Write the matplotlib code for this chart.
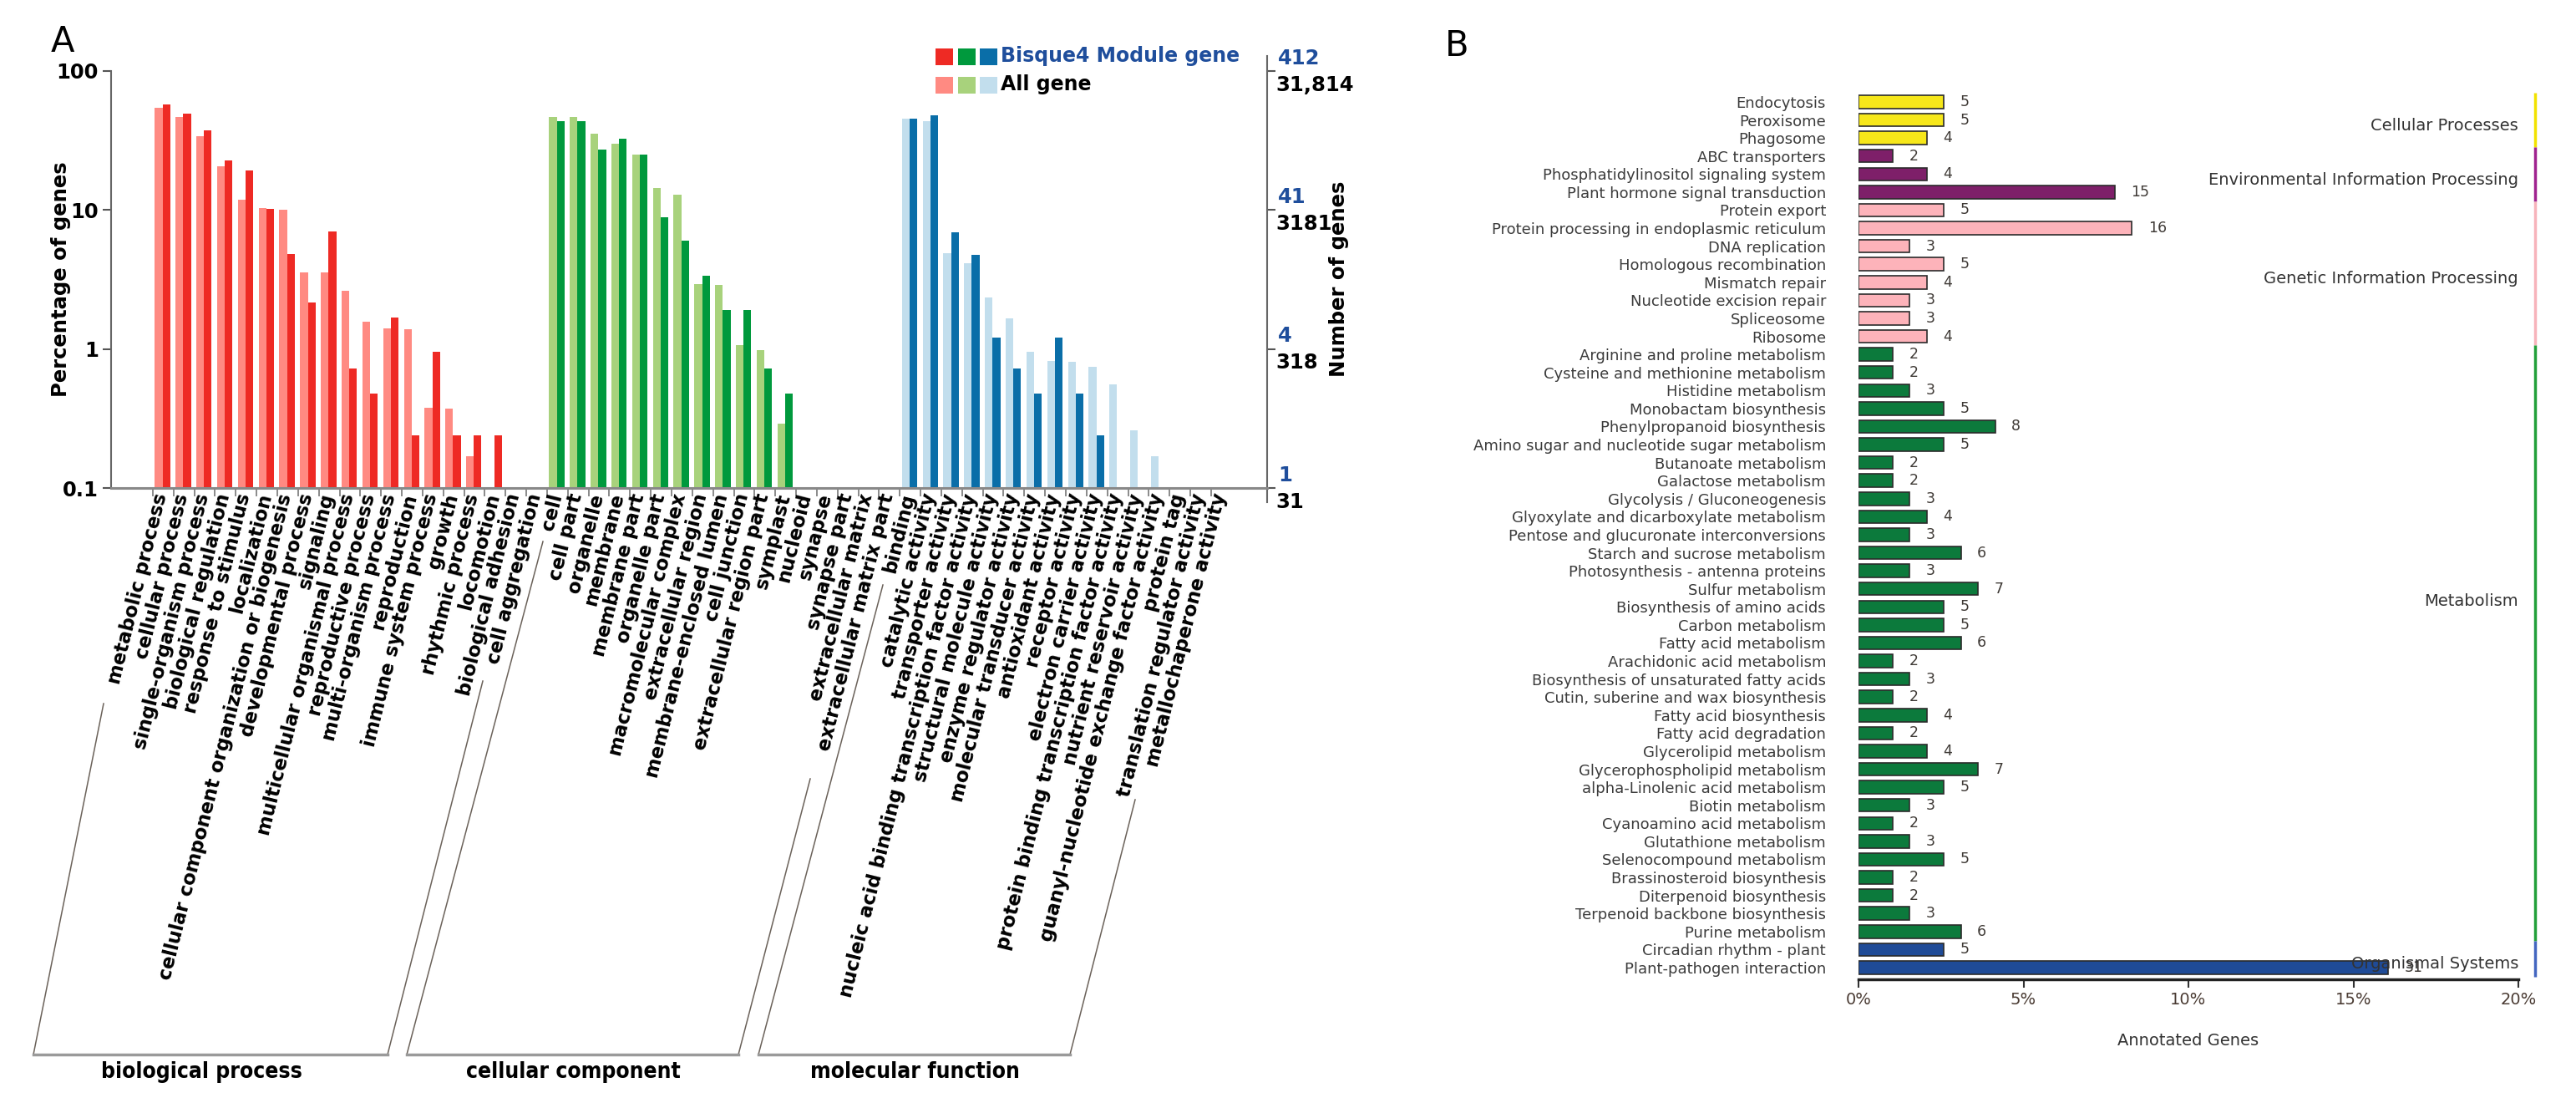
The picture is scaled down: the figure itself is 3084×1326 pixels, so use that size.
import numpy as np
import matplotlib
matplotlib.use('Agg')
import matplotlib.pyplot as plt
from matplotlib.lines import Line2D
from matplotlib.patches import Rectangle
from matplotlib.ticker import NullLocator

plt.rcParams['font.family'] = ['DejaVu Sans']

nan = np.nan

# ── Panel A data: GO level-2 terms, percentage of genes ──────────────────────

bp_terms = ['metabolic process', 'cellular process', 'single-organism process',
            'biological regulation', 'response to stimulus', 'localization',
            'cellular component organization or biogenesis', 'developmental process',
            'signaling', 'multicellular organismal process', 'reproductive process',
            'multi-organism process', 'reproduction', 'immune system process',
            'growth', 'rhythmic process', 'locomotion', 'biological adhesion',
            'cell aggregation']
bp_all    = [54.2, 46.5, 33.9, 20.7, 11.9, 10.4, 10.1, 3.57, 3.54, 2.63, 1.57,
             1.40, 1.39, 0.38, 0.37, 0.17, nan, nan, nan]
bp_module = [57.2, 49.1, 37.4, 22.7, 19.2, 10.2, 4.8, 2.16, 6.97, 0.72, 0.48,
             1.68, 0.24, 0.95, 0.24, 0.24, 0.24, nan, nan]

cc_terms = ['cell', 'cell part', 'organelle', 'membrane', 'membrane part',
            'organelle part', 'macromolecular complex', 'extracellular region',
            'membrane-enclosed lumen', 'cell junction', 'extracellular region part',
            'symplast', 'nucleoid', 'synapse', 'synapse part',
            'extracellular matrix', 'extracellular matrix part']
cc_all    = [47.0, 47.0, 35.4, 29.9, 25.1, 14.3, 12.9, 2.94, 2.89, 1.07, 0.98,
             0.29, nan, nan, nan, nan, nan]
cc_module = [43.3, 43.3, 27.4, 32.6, 25.1, 8.9, 5.98, 3.35, 1.92, 1.92, 0.72,
             0.48, nan, nan, nan, nan, nan]

mf_terms = ['binding', 'catalytic activity', 'transporter activity',
            'nucleic acid binding transcription factor activity',
            'structural molecule activity', 'enzyme regulator activity',
            'molecular transducer activity', 'antioxidant activity',
            'receptor activity', 'electron carrier activity',
            'protein binding transcription factor activity',
            'nutrient reservoir activity',
            'guanyl-nucleotide exchange factor activity', 'protein tag',
            'translation regulator activity', 'metallochaperone activity']
mf_all    = [45.3, 43.6, 4.9, 4.12, 2.35, 1.67, 0.96, 0.82, 0.81, 0.74, 0.56,
             0.26, 0.17, nan, nan, nan]
mf_module = [45.3, 47.8, 6.9, 4.77, 1.2, 0.72, 0.48, 1.2, 0.48, 0.24, nan,
             nan, nan, nan, nan, nan]

go_groups = ['biological process', 'cellular component', 'molecular function']

# right axis: gene counts at 100 / 10 / 1 / 0.1 %
pct_ticks    = [100, 10, 1, 0.1]
pct_labels   = ['100', '10', '1', '0.1']
module_ticks = ['412', '41', '4', '1']
all_ticks    = ['31,814', '3181', '318', '31']

# ── Panel B data: KEGG pathways ──────────────────────────────────────────────

kegg_terms = [
    'Endocytosis', 'Peroxisome', 'Phagosome',
    'ABC transporters', 'Phosphatidylinositol signaling system',
    'Plant hormone signal transduction',
    'Protein export', 'Protein processing in endoplasmic reticulum',
    'DNA replication', 'Homologous recombination', 'Mismatch repair',
    'Nucleotide excision repair', 'Spliceosome', 'Ribosome',
    'Arginine and proline metabolism', 'Cysteine and methionine metabolism',
    'Histidine metabolism', 'Monobactam biosynthesis',
    'Phenylpropanoid biosynthesis', 'Amino sugar and nucleotide sugar metabolism',
    'Butanoate metabolism', 'Galactose metabolism',
    'Glycolysis / Gluconeogenesis', 'Glyoxylate and dicarboxylate metabolism',
    'Pentose and glucuronate interconversions', 'Starch and sucrose metabolism',
    'Photosynthesis - antenna proteins', 'Sulfur metabolism',
    'Biosynthesis of amino acids', 'Carbon metabolism', 'Fatty acid metabolism',
    'Arachidonic acid metabolism', 'Biosynthesis of unsaturated fatty acids',
    'Cutin, suberine and wax biosynthesis', 'Fatty acid biosynthesis',
    'Fatty acid degradation', 'Glycerolipid metabolism',
    'Glycerophospholipid metabolism', 'alpha-Linolenic acid metabolism',
    'Biotin metabolism', 'Cyanoamino acid metabolism', 'Glutathione metabolism',
    'Selenocompound metabolism', 'Brassinosteroid biosynthesis',
    'Diterpenoid biosynthesis', 'Terpenoid backbone biosynthesis',
    'Purine metabolism', 'Circadian rhythm - plant', 'Plant-pathogen interaction']
kegg_counts = [5, 5, 4,
               2, 4, 15,
               5, 16, 3, 5, 4, 3, 3, 4,
               2, 2, 3, 5, 8, 5, 2, 2, 3, 4, 3, 6, 3, 7, 5, 5, 6, 2, 3, 2, 4,
               2, 4, 7, 5, 3, 2, 3, 5, 2, 2, 3, 6,
               5, 31]
kegg_total = 193   # annotated genes (31 genes ~ 16 %)

class_names = ['Cellular Processes', 'Environmental Information Processing',
               'Genetic Information Processing', 'Metabolism', 'Organismal Systems']
class_sizes = [3, 3, 8, 33, 2]
class_label_rows = [1.3, 4.35, 9.8, 27.7, 47.8]

# ── helpers ──────────────────────────────────────────────────────────────────

W, H = 3084, 1326

def fx(px):
    return px / W

def fy(py):
    return 1 - py / H

fig = plt.figure(figsize=(W / 100, H / 100), dpi=100)
fig.patch.set_facecolor('white')

# ── Panel A ──────────────────────────────────────────────────────────────────

axA = fig.add_axes([fx(133), fy(584), fx(1517) - fx(133), fy(85) - fy(584)])

go_sets = [
    (bp_terms, bp_all, bp_module, '#ff8a82', '#ee2a24'),
    (cc_terms, cc_all, cc_module, '#a8d27c', '#00993d'),
    (mf_terms, mf_all, mf_module, '#c2deed', '#0a6ea8'),
]
LEGEND_COLORS = [(s[4], s[3]) for s in go_sets]

all_terms = []
start = 0
for names, v_all, v_mod, c_all, c_mod in go_sets:
    x = start + np.arange(len(names))
    v_all = np.array(v_all)
    v_mod = np.array(v_mod)
    m = ~np.isnan(v_all)
    axA.bar(x[m] + 0.10, v_all[m] - 0.1, bottom=0.1, width=0.37,
            align='edge', color=c_all, linewidth=0)
    m = ~np.isnan(v_mod)
    axA.bar(x[m] + 0.47, v_mod[m] - 0.1, bottom=0.1, width=0.37,
            align='edge', color=c_mod, linewidth=0)
    all_terms += names
    start += len(names)

axA.set_yscale('log')
axA.set_ylim(0.1, 100)
axA.set_xlim(-2.01, 53.7)
axA.set_yticks(pct_ticks)
axA.set_yticklabels(pct_labels, fontsize=17.5, fontweight='bold')
axA.yaxis.set_minor_locator(NullLocator())
axA.set_xticks(np.arange(len(all_terms)))
axA.set_xticklabels(all_terms, rotation=76, ha='right', va='top',
                    rotation_mode='anchor', fontsize=16.5, fontweight='bold')
axA.tick_params(axis='x', direction='out', length=7, width=1.2,
                color='#777777', pad=-4)
axA.tick_params(axis='y', which='major', direction='out', length=7, width=1.5,
                color='#555555', right=True, pad=4)

for side in ['top', 'right']:
    axA.spines[side].set_visible(False)
axA.spines['left'].set_color('#666666')
axA.spines['left'].set_linewidth(1.5)
axA.spines['bottom'].set_color('#888888')
axA.spines['bottom'].set_linewidth(2.2)

# right spine runs a little past both ends
axA.add_line(Line2D([1, 1], [1 + 18 / 499, -17 / 499], transform=axA.transAxes,
                    clip_on=False, color='#666666', lw=1.5))

ytrans = axA.get_yaxis_transform()
for v, lab_mod, lab_all in zip(pct_ticks, module_ticks, all_ticks):
    axA.annotate(lab_mod, xy=(1, v), xycoords=ytrans, xytext=(9.5, 11),
                 textcoords='offset points', ha='left', va='center',
                 fontsize=17.5, fontweight='bold', color='#1f4e9c')
    axA.annotate(lab_all, xy=(1, v), xycoords=ytrans, xytext=(7.5, -12),
                 textcoords='offset points', ha='left', va='center',
                 fontsize=17.5, fontweight='bold', color='black')

fig.text(fx(73), fy(334), 'Percentage of genes', rotation=90, ha='center',
         va='center', fontsize=17.5, fontweight='bold')
fig.text(fx(1603), fy(334), 'Number of genes', rotation=90, ha='center',
         va='center', fontsize=17.5, fontweight='bold')
fig.text(fx(75), fy(50), 'A', ha='center', va='center', fontsize=30)

# legend: three dark squares + three light squares
for i, (c_dark, c_light) in enumerate(LEGEND_COLORS):
    x0 = 1120 + i * 26.5
    fig.add_artist(Rectangle((fx(x0), fy(78)), fx(21), 20 / H,
                             transform=fig.transFigure, color=c_dark, lw=0))
    fig.add_artist(Rectangle((fx(x0), fy(112)), fx(21), 20 / H,
                             transform=fig.transFigure, color=c_light, lw=0))
fig.text(fx(1198), fy(67), 'Bisque4 Module gene', ha='left', va='center',
         fontsize=17, fontweight='bold', color='#1f4e9c')
fig.text(fx(1198), fy(101), 'All gene', ha='left', va='center',
         fontsize=17, fontweight='bold', color='black')

# group brackets under the labels
brackets = [
    [(124, 842), (40, 1262), (464, 1262), (578, 815)],
    [(650, 648), (487, 1262), (884, 1262), (970, 932)],
    [(1057, 700), (908, 1262), (1281, 1262), (1359, 957)],
]
group_x = [241, 686, 1095]
for pts, name, cx in zip(brackets, go_groups, group_x):
    (x1, y1), (x2, y2), (x3, y3), (x4, y4) = pts
    fig.add_artist(Line2D([fx(x1), fx(x2)], [fy(y1), fy(y2)], color='#6b625a', lw=1.1))
    fig.add_artist(Line2D([fx(x3), fx(x4)], [fy(y3), fy(y4)], color='#6b625a', lw=1.1))
    fig.add_artist(Line2D([fx(x2), fx(x3)], [fy(y2), fy(y3)], color='#9a9a9a', lw=2.5))
    fig.text(fx(cx), fy(1283), name, ha='center', va='center', fontsize=19,
             fontweight='bold', fontstretch='condensed')

# ── Panel B ──────────────────────────────────────────────────────────────────

class_bar_colors  = ['#f6e71a', '#7e1f69', '#fdb3ba', '#0c7a3c', '#1f4b97']
class_line_colors = ['#f2e200', '#a0238f', '#f7b4bb', '#22a03a', '#4466c0']

axB = fig.add_axes([fx(2225), fy(1172), fx(3015) - fx(2225), fy(109) - fy(1172)])

rows = np.arange(len(kegg_terms))
pct = np.array(kegg_counts) / kegg_total * 100
bar_colors = []
for c, n in zip(class_bar_colors, class_sizes):
    bar_colors += [c] * n

axB.barh(rows, pct, height=0.72, color=bar_colors, edgecolor='#2b2b2b',
         linewidth=1.2)
for r, p, n in zip(rows, pct, kegg_counts):
    axB.annotate(str(n), xy=(p, r), xytext=(14, 0), textcoords='offset points',
                 ha='left', va='center', fontsize=12.5, color='#3f3a36')

axB.set_xlim(0, 20)
axB.set_ylim(len(kegg_terms) - 0.35, -0.6)
axB.set_xticks([0, 5, 10, 15, 20])
axB.set_xticklabels(['0%', '5%', '10%', '15%', '20%'])
axB.tick_params(axis='x', direction='out', length=7, width=1.5, color='#333333',
                labelsize=14, labelcolor='#4a3b33')
axB.set_yticks(rows)
axB.set_yticklabels(kegg_terms, fontsize=13, color='#3b3b3b')
axB.tick_params(axis='y', length=0, pad=28)
axB.set_xlabel('Annotated Genes', fontsize=14, color='#333333', labelpad=22)
for side in ['left', 'top', 'right']:
    axB.spines[side].set_visible(False)
axB.spines['bottom'].set_color('#222222')
axB.spines['bottom'].set_linewidth(2.5)

first = 0
for name, n, c_line, lab_row in zip(class_names, class_sizes, class_line_colors,
                                    class_label_rows):
    axB.plot([20.5, 20.5], [first - 0.5, first + n - 0.5], color=c_line, lw=2.5,
             clip_on=False, solid_capstyle='butt')
    axB.text(20, lab_row, name, ha='right', va='center', fontsize=14,
             color='#333333')
    first += n

fig.text(fx(1744), fy(55), 'B', ha='center', va='center', fontsize=30)

plt.savefig('out.png', dpi=100, facecolor='white')
plt.close()
